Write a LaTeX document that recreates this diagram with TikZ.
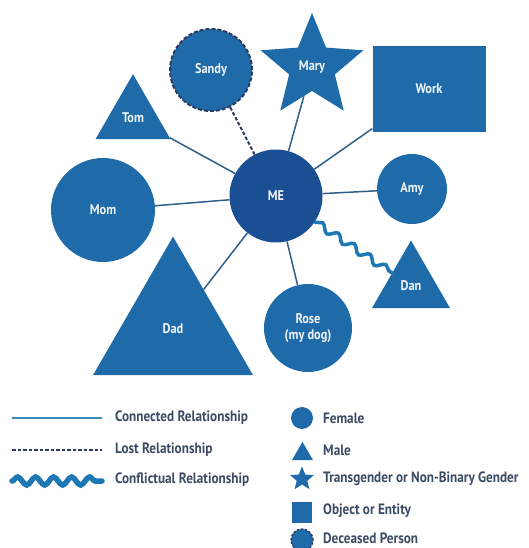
\documentclass[tikz,border=0pt]{standalone}
\usepackage{fontspec}
\setmainfont[FakeStretch=0.88]{PT Sans}
\usetikzlibrary{shapes.geometric,decorations.pathmorphing}
\definecolor{nodeblue}{HTML}{1F6BAA}
\definecolor{meblue}{HTML}{1A4F94}
\definecolor{linecol}{HTML}{2E5F8A}
\definecolor{lostcol}{HTML}{2C3A62}
\definecolor{wavecol}{HTML}{1E78B4}
\definecolor{leglinecol}{HTML}{3A8CBF}
\definecolor{legtext}{HTML}{3C4A63}
\definecolor{labelcol}{HTML}{F0F4F8}
\tikzset{
  base/.style={fill=nodeblue, draw=none, inner sep=0pt, text=labelcol, font=\fontsize{14}{16}\selectfont\bfseries, align=center},
  person/.style={base, circle},
  male/.style={base, regular polygon, regular polygon sides=3},
  trans/.style={base, star, star points=5, star point ratio=2.25},
  entity/.style={base, rectangle},
  deceased/.style={person, draw=lostcol, line width=2pt, dash pattern=on 4pt off 2pt},
  conn/.style={draw=linecol, line width=1.5pt},
  lost/.style={draw=lostcol, line width=2pt, dash pattern=on 3.5pt off 2pt},
  conflict/.style={draw=wavecol, line width=3.5pt, line cap=round, decorate, decoration={snake, segment length=19pt, amplitude=3.5pt, pre length=1pt, post length=1pt}},
  legtxt/.style={anchor=west, inner sep=0pt, text=legtext, font=\fontsize{15}{17}\selectfont\bfseries},
}
\begin{document}
\begin{tikzpicture}[x=1pt, y=-1pt]
\useasboundingbox (0,0) rectangle (528,548);
% nodes
\node[person, fill=meblue, minimum size=93pt] (me) at (276,196) {ME};
\node[deceased, minimum size=82pt] (sandy) at (211,70) {Sandy};
\node[trans, minimum size=108pt] (mary) at (312,67) {Mary};
\node[entity, minimum width=113pt, minimum height=86pt] (work) at (429,89) {Work};
\node[male, minimum size=86.6pt] (tom) at (133,117.5) {Tom};
\node[person, minimum size=104pt] (mom) at (103,210) {Mom};
\node[person, minimum size=70pt] (amy) at (412,189) {Amy};
\node[male, minimum size=184.8pt] (dad) at (173,329) {Dad};
\node[person, minimum size=88pt] (rose) at (308,328) {Rose\\(my dog)};
\node[male, minimum size=90pt] (dan) at (411,285.5) {Dan};
% connectors
\draw[lost] (me) -- (sandy);
\draw[conn] (me) -- (mary);
\draw[conn] (me) -- (work);
\draw[conn] (me) -- (tom);
\draw[conn] (me) -- (mom);
\draw[conn] (me) -- (amy);
\draw[conn] (me) -- (dad);
\draw[conn] (me) -- (rose);
\draw[conflict] (me) -- (dan);
% legend: relationships
\coordinate (c1a) at (12,418); \coordinate (c1b) at (102,418);
\coordinate (c2a) at (12,450); \coordinate (c2b) at (102,450);
\coordinate (c3a) at (12,481); \coordinate (c3b) at (102,481);
\draw[draw=leglinecol, line width=2pt] (c1a) -- (c1b);
\draw[lost, line width=2pt] (c2a) -- (c2b);
\draw[draw=wavecol, line width=5.5pt, line cap=round, decorate, decoration={snake, segment length=18pt, amplitude=4pt}] (c3a) -- (c3b);
\node[legtxt] (t1) at (115,418) {Connected Relationship};
\node[legtxt] (t2) at (115,450) {Lost Relationship};
\node[legtxt] (t3) at (115,480) {Conflictual Relationship};
% legend: shapes
\node[person, minimum size=22pt] (lf) at (302,418) {};
\node[male, minimum size=24.2pt] (lm) at (302.5,454) {};
\node[trans, minimum size=25pt] (lt) at (302,479) {};
\node[entity, minimum width=20pt, minimum height=21pt] (lo) at (302,512) {};
\node[deceased, minimum size=22pt, line width=1.4pt, dash pattern=on 2.5pt off 1.5pt] (ld) at (302,540) {};
\node[legtxt] (s1) at (323,418) {Female};
\node[legtxt] (s2) at (323,450) {Male};
\node[legtxt] (s3) at (323,479) {Transgender or Non-Binary Gender};
\node[legtxt] (s4) at (323,511) {Object or Entity};
\node[legtxt] (s5) at (323,538) {Deceased Person};
\end{tikzpicture}
\end{document}
